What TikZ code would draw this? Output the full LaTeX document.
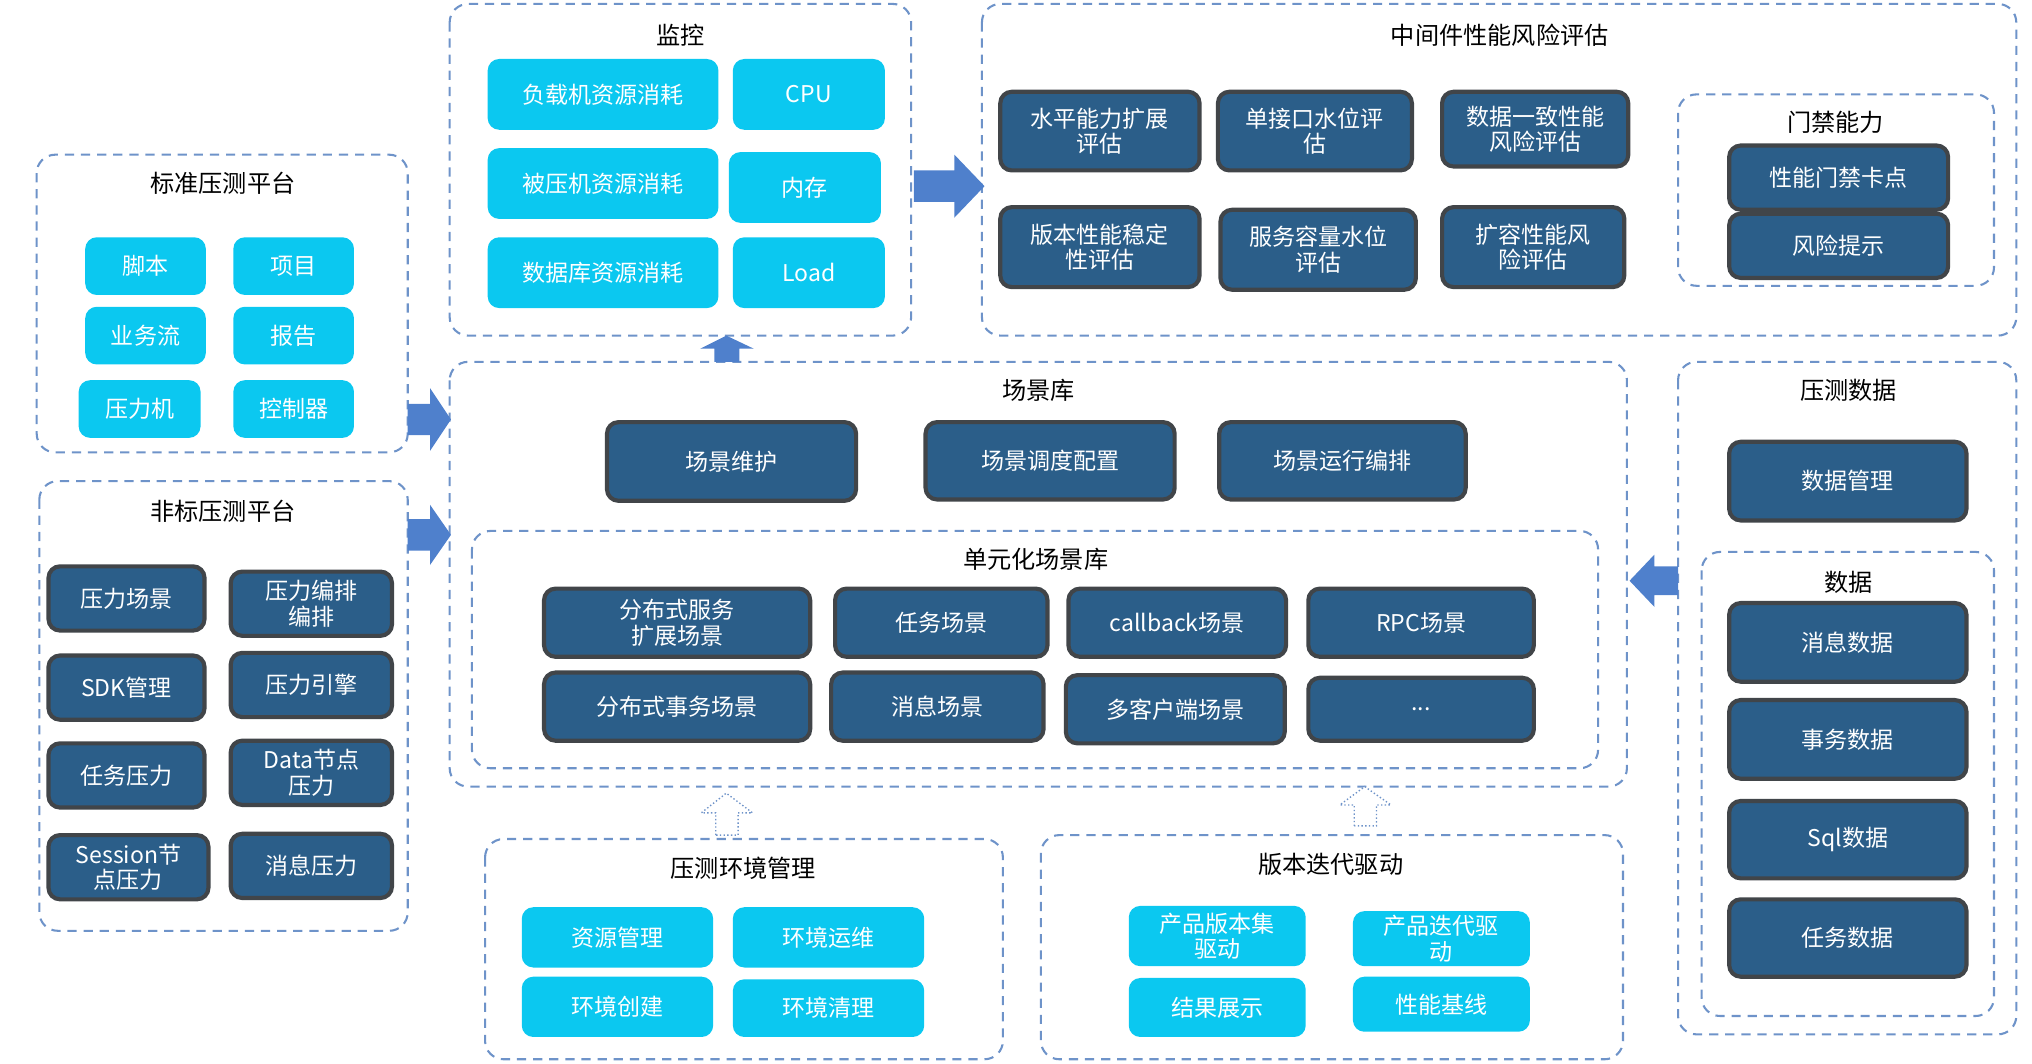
\documentclass[tikz,border=0pt]{standalone}
\usepackage{fontspec}
\setmainfont{Noto Sans CJK SC}
\begin{document}
\begin{tikzpicture}[x=0.02cm,y=-0.02cm,
  grp/.style={draw=grpc,dashed,line width=0.9pt,rounded corners=8pt,dash pattern=on 4pt off 3pt},
  cy/.style={fill=cyc,rounded corners=5pt,text=white,align=center,font=\fontsize{10}{11}\selectfont,inner sep=1pt},
  dk/.style={fill=dkc,draw=dkb,line width=1.8pt,rounded corners=5pt,text=white,align=center,font=\fontsize{10}{11}\selectfont,inner sep=1pt},
  ttl/.style={font=\fontsize{10.5}{12}\selectfont,text=black},
  barrow/.style={fill=arc},
  harrow/.style={draw=grpc,densely dotted,fill=white,line width=0.6pt}]
\definecolor{grpc}{HTML}{6E93C9}
\definecolor{cyc}{HTML}{0BC8F0}
\definecolor{dkc}{HTML}{2B5E89}
\definecolor{dkb}{HTML}{414549}
\definecolor{arc}{HTML}{4F80CC}
\newcommand\bx[7]{\node[#1, minimum width={(#5-#3)*0.02cm}, minimum height={(#6-#4)*0.02cm}] (#2) at ({(#3+#5)/2},{(#4+#6)/2}) {#7};}
\newcommand\gb[6]{\draw[grp] (#2,#3) rectangle (#4,#5); \node[ttl] (#1) at ({(#2+#4)/2},#6) {\phantom{x}};}
\useasboundingbox (0,0) rectangle (1550,811.6);
% monitor
\draw[grp] (343,3) rectangle (695,256);
\node[ttl] (tmon) at (519,27) {监控};
\bx{cy}{m1}{372}{45}{548}{99}{负载机资源消耗}
\bx{cy}{m2}{559}{45}{675}{99}{CPU}
\bx{cy}{m3}{372}{113}{548}{167}{被压机资源消耗}
\bx{cy}{m4}{556}{116}{672}{170}{内存}
\bx{cy}{m5}{372}{181}{548}{235}{数据库资源消耗}
\bx{cy}{m6}{559}{181}{675}{235}{Load}
% middleware
\draw[grp] (749,3) rectangle (1538,256);
\node[ttl] (tmid) at (1144,27) {中间件性能风险评估};
\bx{dk}{w1}{763}{70}{915}{130}{水平能力扩展\\评估}
\bx{dk}{w2}{929}{70}{1077}{130}{单接口水位评\\估}
\bx{dk}{w3}{1100}{70}{1242}{127}{数据一致性能\\风险评估}
\bx{dk}{w4}{763}{158}{915}{219}{版本性能稳定\\性评估}
\bx{dk}{w5}{931}{160}{1080}{221}{服务容量水位\\评估}
\bx{dk}{w6}{1100}{158}{1239}{219}{扩容性能风\\险评估}
\draw[grp] (1280,72) rectangle (1521,218);
\node[ttl] (tgate) at (1400,93) {门禁能力};
\bx{dk}{g1}{1319}{111}{1486}{160}{性能门禁卡点}
\bx{dk}{g2}{1319}{163}{1486}{212}{风险提示}
% standard
\draw[grp] (28,118) rectangle (311,345);
\node[ttl] (tstd) at (170,140) {标准压测平台};
\bx{cy}{s1}{65}{181}{157}{225}{脚本}
\bx{cy}{s2}{178}{181}{270}{225}{项目}
\bx{cy}{s3}{65}{234}{157}{278}{业务流}
\bx{cy}{s4}{178}{234}{270}{278}{报告}
\bx{cy}{s5}{60}{290}{153}{334}{压力机}
\bx{cy}{s6}{178}{290}{270}{334}{控制器}
% non-standard
\draw[grp] (30,367) rectangle (311,710);
\node[ttl] (tnon) at (170,390) {非标压测平台};
\bx{dk}{n1}{37}{432}{156}{481}{压力场景}
\bx{dk}{n2}{176}{436}{299}{485}{压力编排\\编排}
\bx{dk}{n3}{37}{500}{156}{549}{SDK管理}
\bx{dk}{n4}{176}{498}{299}{547}{压力引擎}
\bx{dk}{n5}{37}{567}{156}{616}{任务压力}
\bx{dk}{n6}{176}{565}{299}{614}{Data节点\\压力}
\bx{dk}{n7}{37}{637}{159}{686}{Session节\\点压力}
\bx{dk}{n8}{176}{636}{299}{685}{消息压力}
% scene lib
\draw[grp] (343,276) rectangle (1241,600);
\node[ttl] (tscn) at (792,298) {场景库};
\bx{dk}{c1}{463}{322}{653}{382}{场景维护}
\bx{dk}{c2}{706}{322}{896}{381}{场景调度配置}
\bx{dk}{c3}{930}{322}{1118}{381}{场景运行编排}
\draw[grp] (360,405) rectangle (1219,586);
\node[ttl] (tunit) at (790,427) {单元化场景库};
\bx{dk}{u1}{415}{449}{618}{501}{分布式服务\\扩展场景}
\bx{dk}{u2}{637}{449}{799}{501}{任务场景}
\bx{dk}{u3}{815}{449}{981}{501}{callback场景}
\bx{dk}{u4}{998}{449}{1170}{501}{RPC场景}
\bx{dk}{u5}{415}{513}{618}{565}{分布式事务场景}
\bx{dk}{u6}{634}{513}{796}{565}{消息场景}
\bx{dk}{u7}{813}{515}{980}{567}{多客户端场景}
\bx{dk}{u8}{998}{517}{1170}{565}{...}
% data
\draw[grp] (1280,276) rectangle (1538,789);
\node[ttl] (tdat) at (1410,298) {压测数据};
\bx{dk}{d0}{1319}{337}{1500}{397}{数据管理}
\draw[grp] (1298,421) rectangle (1521,775);
\node[ttl] (tdd) at (1410,444) {数据};
\bx{dk}{d1}{1319}{460}{1500}{520}{消息数据}
\bx{dk}{d2}{1319}{534}{1500}{594}{事务数据}
\bx{dk}{d3}{1319}{611}{1500}{670}{Sql数据}
\bx{dk}{d4}{1319}{686}{1500}{745}{任务数据}
% env
\draw[grp] (370,640) rectangle (765,808);
\node[ttl] (tenv) at (567,662) {压测环境管理};
\bx{cy}{e1}{398}{692}{544}{738}{资源管理}
\bx{cy}{e2}{559}{692}{705}{738}{环境运维}
\bx{cy}{e3}{398}{745}{544}{791}{环境创建}
\bx{cy}{e4}{559}{747}{705}{791}{环境清理}
% version
\draw[grp] (794,637) rectangle (1238,808);
\node[ttl] (tver) at (1015,659) {版本迭代驱动};
\bx{cy}{v1}{861}{691}{996}{737}{产品版本集\\驱动}
\bx{cy}{v2}{1032}{695}{1167}{737}{产品迭代驱\\动}
\bx{cy}{v3}{861}{746}{996}{791}{结果展示}
\bx{cy}{v4}{1032}{745}{1167}{787}{性能基线}
% block arrows
\fill[barrow] (697,130) -- (728,130) -- (728,118) -- (751,142) -- (728,166) -- (728,154) -- (697,154) -- cycle;
\fill[barrow] (311,308) -- (328,308) -- (328,296) -- (344,320) -- (328,344) -- (328,332) -- (311,332) -- cycle;
\fill[barrow] (311,396) -- (328,396) -- (328,385) -- (344,408) -- (328,431) -- (328,420) -- (311,420) -- cycle;
\fill[barrow] (1280,432) -- (1262,432) -- (1262,423) -- (1243,443) -- (1262,463) -- (1262,454) -- (1280,454) -- cycle;
\fill[barrow] (545,276) -- (545,266) -- (534,266) -- (554,256) -- (575,266) -- (564,266) -- (564,276) -- cycle;
\draw[harrow] (546,637) -- (546,620) -- (535,620) -- (554,605) -- (574,620) -- (563,620) -- (563,637) -- cycle;
\draw[harrow] (1033,630) -- (1033,614) -- (1022,614) -- (1041,600) -- (1061,614) -- (1050,614) -- (1050,630) -- cycle;
\end{tikzpicture}
\end{document}
